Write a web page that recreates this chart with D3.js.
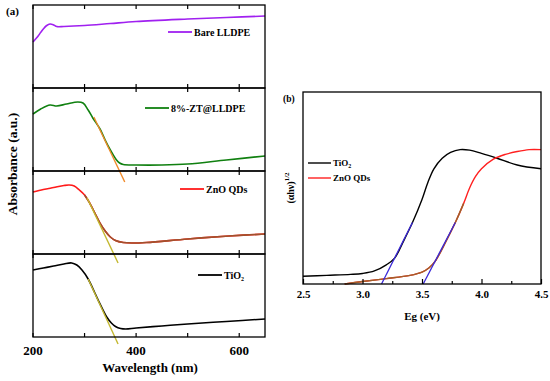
<!DOCTYPE html>
<html>
<head>
<meta charset="utf-8">
<script src="https://cdn.jsdelivr.net/npm/d3@7"></script>
<style>
body { margin: 0; background: #fff; }
text { font-family: "Liberation Serif", "Times New Roman", serif; font-weight: bold; }
</style>
</head>
<body>
<script>
// ---- data (a): wavelength (nm) vs absorbance, each panel scaled 0..1
var bareWl = [200, 205, 210, 215, 220, 226, 233, 240, 246, 260, 300, 350, 400, 500, 575, 650];
var bareAbs = [0.554, 0.59, 0.627, 0.67, 0.711, 0.75, 0.771, 0.76, 0.74, 0.741, 0.753, 0.777, 0.801, 0.831, 0.85, 0.867];

var ztWl = [200, 215, 233, 246, 265, 287, 297, 307, 316, 330, 340, 350, 355, 362, 368, 375, 400, 450, 500, 575, 650];
var ztAbs = [0.687, 0.747, 0.795, 0.783, 0.807, 0.831, 0.819, 0.735, 0.639, 0.506, 0.373, 0.253, 0.2, 0.133, 0.096, 0.078, 0.072, 0.072, 0.084, 0.133, 0.181];

var znoWl = [200, 220, 240, 260, 270, 280, 290, 300, 310, 320, 330, 340, 350, 360, 375, 392, 420, 500, 580, 650];
var znoAbs = [0.747, 0.777, 0.801, 0.825, 0.831, 0.819, 0.771, 0.711, 0.614, 0.494, 0.373, 0.277, 0.205, 0.163, 0.139, 0.133, 0.139, 0.181, 0.217, 0.241];

var tioWl = [200, 220, 240, 260, 275, 285, 295, 307, 320, 330, 343, 352, 360, 370, 380, 400, 450, 500, 575, 650];
var tioAbs = [0.807, 0.831, 0.855, 0.88, 0.892, 0.867, 0.807, 0.699, 0.53, 0.398, 0.241, 0.169, 0.127, 0.102, 0.096, 0.108, 0.133, 0.157, 0.187, 0.217];

// tangent lines (a): [x0, y0, x1, y1]
var ztFit = [318, 0.651, 378, -0.133];
var znoFit = [305, 0.675, 365, -0.108];
var tioFit = [307, 0.699, 365, -0.084];

var panelNames = ["Bare LLDPE", "8%-ZT@LLDPE", "ZnO QDs", "TiO2"];
var wlTicks = [200, 300, 400, 500, 600];
var wlLabels = [200, 400, 600];

// ---- data (b): Tauc plot
var tioEv = [2.5, 2.7, 2.9, 3.0, 3.1, 3.2, 3.27, 3.35, 3.42, 3.5, 3.55, 3.6, 3.67, 3.74, 3.82, 3.9, 4.0, 4.13, 4.3, 4.5];
var tioTauc = [0.04, 0.045, 0.05, 0.055, 0.068, 0.1, 0.135, 0.23, 0.32, 0.44, 0.53, 0.6, 0.655, 0.685, 0.70, 0.697, 0.68, 0.655, 0.62, 0.60];
var znoEv = [2.85, 3.0, 3.2, 3.4, 3.5, 3.56, 3.61, 3.7, 3.78, 3.85, 3.9, 3.95, 4.0, 4.1, 4.2, 4.3, 4.4, 4.5];
var znoTauc = [0.0, 0.013, 0.028, 0.045, 0.062, 0.085, 0.118, 0.22, 0.32, 0.42, 0.5, 0.56, 0.60, 0.65, 0.675, 0.69, 0.70, 0.70];
var tioGap = [3.16, 0, 3.42, 0.32];
var znoGap = [3.51, 0, 3.78, 0.32];
var evTicks = [2.5, 2.75, 3.0, 3.25, 3.5, 3.75, 4.0, 4.25, 4.5];
var evLabels = [2.5, 3.0, 3.5, 4.0, 4.5];

var svg = d3.select("body").append("svg")
  .attr("width", 550)
  .attr("height", 381);

function zip(xs, ys) {
  return xs.map(function(x, i) { return [x, ys[i]]; });
}

// ---------- panel (a)
var aLeft = 33, aRight = 265, aTop = 5, panelH = 83;
var x = d3.scaleLinear().domain([200, 650]).range([aLeft, aRight]);

var panels = [
  { data: zip(bareWl, bareAbs), color: "#a020f0", fit: null, leg: [168, 32] },
  { data: zip(ztWl, ztAbs), color: "#108010", fit: ztFit, fitColor: "#f08a2a", leg: [145, 108] },
  { data: zip(znoWl, znoAbs), color: "#ff1a1a", fit: znoFit, fitColor: "#c4b830", brown: 300, leg: [180, 189] },
  { data: zip(tioWl, tioAbs), color: "#000", fit: tioFit, fitColor: "#c4b830", leg: [198, 275] }
];

panels.forEach(function(p, i) {
  var top = aTop + i * panelH;
  var y = d3.scaleLinear().domain([0, 1]).range([top + panelH, top]);
  var g = svg.append("g");

  var line = d3.line()
    .x(function(d) { return x(d[0]); })
    .y(function(d) { return y(d[1]); })
    .curve(d3.curveCatmullRom);

  g.append("path")
    .attr("d", line(p.data))
    .attr("fill", "none")
    .attr("stroke", p.color)
    .attr("stroke-width", 1.6);

  if (p.brown) {
    g.append("path")
      .attr("d", line(p.data.filter(function(d) { return d[0] >= p.brown; })))
      .attr("fill", "none")
      .attr("stroke", "#a0522d")
      .attr("stroke-width", 1.6);
  }

  if (p.fit) {
    g.append("line")
      .attr("x1", x(p.fit[0])).attr("y1", y(p.fit[1]))
      .attr("x2", x(p.fit[2])).attr("y2", y(p.fit[3]))
      .attr("stroke", p.fitColor)
      .attr("stroke-width", 1.4);
  }

  // frame
  g.append("rect")
    .attr("x", aLeft).attr("y", top)
    .attr("width", aRight - aLeft).attr("height", panelH)
    .attr("fill", "none").attr("stroke", "#000").attr("stroke-width", 1.3);

  // inward ticks top and bottom
  wlTicks.forEach(function(t) {
    g.append("line").attr("x1", x(t)).attr("x2", x(t))
      .attr("y1", top).attr("y2", top + 4).attr("stroke", "#000").attr("stroke-width", 1.2);
    g.append("line").attr("x1", x(t)).attr("x2", x(t))
      .attr("y1", top + panelH).attr("y2", top + panelH - 4).attr("stroke", "#000").attr("stroke-width", 1.2);
  });

  // legend
  g.append("line")
    .attr("x1", p.leg[0]).attr("x2", p.leg[0] + 24)
    .attr("y1", p.leg[1]).attr("y2", p.leg[1])
    .attr("stroke", p.color).attr("stroke-width", 1.8);
  var t = g.append("text")
    .attr("x", p.leg[0] + 26).attr("y", p.leg[1] + 3.5)
    .attr("font-size", 10);
  if (panelNames[i] === "TiO2") {
    t.text("TiO");
    t.append("tspan").attr("font-size", 6).attr("dy", 2).text("2");
  } else {
    t.text(panelNames[i]);
  }
});

var aBottom = aTop + 4 * panelH;
svg.append("g").selectAll("text")
  .data(wlLabels)
  .enter().append("text")
  .attr("x", function(d) { return x(d); })
  .attr("y", aBottom + 18)
  .attr("text-anchor", "middle")
  .attr("font-size", 13)
  .text(function(d) { return d; });

svg.append("text")
  .attr("x", 150).attr("y", 372)
  .attr("text-anchor", "middle")
  .attr("font-size", 13)
  .text("Wavelength (nm)");

svg.append("text")
  .attr("transform", "translate(17,164) rotate(-90)")
  .attr("text-anchor", "middle")
  .attr("font-size", 13.5)
  .text("Absorbance (a.u.)");

svg.append("text")
  .attr("x", 6).attr("y", 15)
  .attr("font-size", 11)
  .text("(a)");

// ---------- panel (b)
var bLeft = 303, bRight = 541, bTop = 92, bBottom = 284;
var xb = d3.scaleLinear().domain([2.5, 4.5]).range([bLeft, bRight]);
var yb = d3.scaleLinear().domain([0, 1]).range([bBottom, bTop]);

var gb = svg.append("g");
var lineB = d3.line()
  .x(function(d) { return xb(d[0]); })
  .y(function(d) { return yb(d[1]); })
  .curve(d3.curveCatmullRom);

var tioPts = zip(tioEv, tioTauc);
var znoPts = zip(znoEv, znoTauc);

gb.append("path").attr("d", lineB(tioPts))
  .attr("fill", "none").attr("stroke", "#000").attr("stroke-width", 1.4);
gb.append("path").attr("d", lineB(znoPts))
  .attr("fill", "none").attr("stroke", "#ff2020").attr("stroke-width", 1.4);
gb.append("path").attr("d", lineB(znoPts.filter(function(d) { return d[0] <= 3.85; })))
  .attr("fill", "none").attr("stroke", "#a0602a").attr("stroke-width", 1.4);

[tioGap, znoGap].forEach(function(f) {
  gb.append("line")
    .attr("x1", xb(f[0])).attr("y1", yb(f[1]))
    .attr("x2", xb(f[2])).attr("y2", yb(f[3]))
    .attr("stroke", "#3a28d8").attr("stroke-width", 1.3);
});

gb.append("rect")
  .attr("x", bLeft).attr("y", bTop)
  .attr("width", bRight - bLeft).attr("height", bBottom - bTop)
  .attr("fill", "none").attr("stroke", "#000").attr("stroke-width", 1.3);

var xAxisB = d3.axisBottom(xb)
  .tickValues(evTicks)
  .tickSize(-4)
  .tickFormat(function(d) { return evLabels.indexOf(d) >= 0 ? d3.format(".1f")(d) : ""; });

var ax = gb.append("g")
  .attr("transform", "translate(0," + bBottom + ")")
  .call(xAxisB);
ax.select(".domain").remove();
ax.selectAll(".tick line").attr("stroke-width", 1.2)
  .attr("y2", function(d) { return evLabels.indexOf(d) >= 0 ? -5 : -3; });
ax.selectAll(".tick text")
  .attr("font-size", 11)
  .attr("font-family", "Liberation Serif")
  .attr("font-weight", "bold")
  .attr("fill", "#000")
  .attr("dy", "0.9em")
  .attr("y", 4);

svg.append("text")
  .attr("x", 422).attr("y", 320)
  .attr("text-anchor", "middle")
  .attr("font-size", 11)
  .text("Eg (eV)");

var yl = svg.append("text")
  .attr("transform", "translate(294,188) rotate(-90)")
  .attr("text-anchor", "middle")
  .attr("font-size", 10)
  .text("(αhν)");
yl.append("tspan").attr("font-size", 7).attr("dy", -5).text("1/2");

svg.append("text")
  .attr("x", 283).attr("y", 102)
  .attr("font-size", 9.5)
  .text("(b)");

// legend (b)
var legB = [["TiO", "2", "#000", 163], ["ZnO QDs", "", "#ff2020", 178]];
legB.forEach(function(l) {
  svg.append("line")
    .attr("x1", 308).attr("x2", 331)
    .attr("y1", l[3]).attr("y2", l[3])
    .attr("stroke", l[2]).attr("stroke-width", 1.4);
  var t = svg.append("text")
    .attr("x", 333).attr("y", l[3] + 3)
    .attr("font-size", 9)
    .text(l[0]);
  if (l[1]) t.append("tspan").attr("font-size", 6).attr("dy", 2).text(l[1]);
});
</script>
</body>
</html>
